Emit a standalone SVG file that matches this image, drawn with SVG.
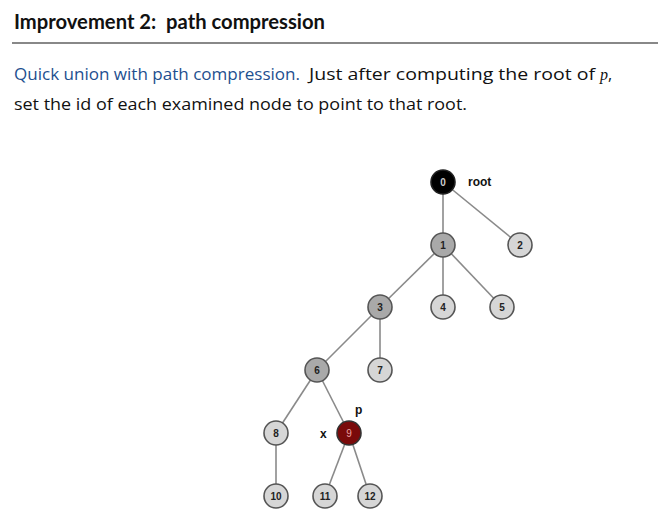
<svg xmlns="http://www.w3.org/2000/svg" width="658" height="522" viewBox="0 0 658 522">
<style>
.t{font-family:"Open Sans","Liberation Sans",sans-serif;font-size:16px;fill:#111}
.e line{stroke:#8a8a8a;stroke-width:1.6}
.n circle{stroke:#555;stroke-width:1.6;fill:#d6d6d6}
.n.d circle{fill:#a9a9a9}
.n text{font-family:"Liberation Sans",sans-serif;font-size:10px;font-weight:bold;text-anchor:middle;fill:#222}
.lb{font-family:"Liberation Sans",sans-serif;font-size:12px;font-weight:bold;fill:#111}
</style>
<rect width="658" height="522" fill="#fff"/>
<text x="14" y="29" font-family="Lato,'Liberation Sans',sans-serif" font-weight="bold" font-size="20" fill="#111" textLength="311" lengthAdjust="spacingAndGlyphs">Improvement 2:&#160; path compression</text>
<line x1="12" y1="43" x2="658" y2="43" stroke="#888" stroke-width="2"/>
<text class="t" x="14" y="80"><tspan fill="#1e4f8f" textLength="286" lengthAdjust="spacingAndGlyphs">Quick union with path compression.</tspan><tspan x="309" textLength="286" lengthAdjust="spacingAndGlyphs">Just after computing the root of</tspan><tspan x="600" font-family="'Liberation Serif',serif" font-style="italic">p</tspan><tspan>,</tspan></text>
<text class="t" x="14" y="110" textLength="453" lengthAdjust="spacingAndGlyphs">set the id of each examined node to point to that root.</text>
<g class="e" id="edges">
<line x1="443" y1="182" x2="443" y2="245"/>
<line x1="443" y1="182" x2="520" y2="245"/>
<line x1="443" y1="245" x2="380" y2="307"/>
<line x1="443" y1="245" x2="443" y2="307"/>
<line x1="443" y1="245" x2="502" y2="307"/>
<line x1="380" y1="307" x2="317" y2="370"/>
<line x1="380" y1="307" x2="380" y2="370"/>
<line x1="317" y1="370" x2="276" y2="433"/>
<line x1="317" y1="370" x2="349" y2="433"/>
<line x1="276" y1="433" x2="276" y2="496"/>
<line x1="349" y1="433" x2="325" y2="496"/>
<line x1="349" y1="433" x2="370" y2="496"/>
</g>
<g class="n" id="n0"><circle cx="443" cy="182" r="12" style="fill:#000;stroke:#222"/><text x="443" y="185.5" style="fill:#ccc">0</text></g>
<g class="n d" id="n1"><circle cx="443" cy="245" r="12"/><text x="443" y="248.5">1</text></g>
<g class="n" id="n2"><circle cx="520" cy="245" r="12"/><text x="520" y="248.5">2</text></g>
<g class="n d" id="n3"><circle cx="380" cy="307" r="12"/><text x="380" y="310.5">3</text></g>
<g class="n" id="n4"><circle cx="443" cy="307" r="12"/><text x="443" y="310.5">4</text></g>
<g class="n" id="n5"><circle cx="502" cy="307" r="12"/><text x="502" y="310.5">5</text></g>
<g class="n d" id="n6"><circle cx="317" cy="370" r="12"/><text x="317" y="373.5">6</text></g>
<g class="n" id="n7"><circle cx="380" cy="370" r="12"/><text x="380" y="373.5">7</text></g>
<g class="n" id="n8"><circle cx="276" cy="433" r="12"/><text x="276" y="436.5">8</text></g>
<g class="n" id="n9"><circle cx="349" cy="433" r="12" style="fill:#7a0a0a;stroke:#333"/><text x="349" y="436.5" style="fill:#e9a0a0;font-weight:normal">9</text></g>
<g class="n" id="n10"><circle cx="276" cy="496" r="12"/><text x="276" y="499.5">10</text></g>
<g class="n" id="n11"><circle cx="325" cy="496" r="12"/><text x="325" y="499.5">11</text></g>
<g class="n" id="n12"><circle cx="370" cy="496" r="12"/><text x="370" y="499.5">12</text></g>
<text class="lb" x="468" y="186">root</text>
<text class="lb" x="355" y="414">p</text>
<text class="lb" x="320" y="438">x</text>
</svg>
